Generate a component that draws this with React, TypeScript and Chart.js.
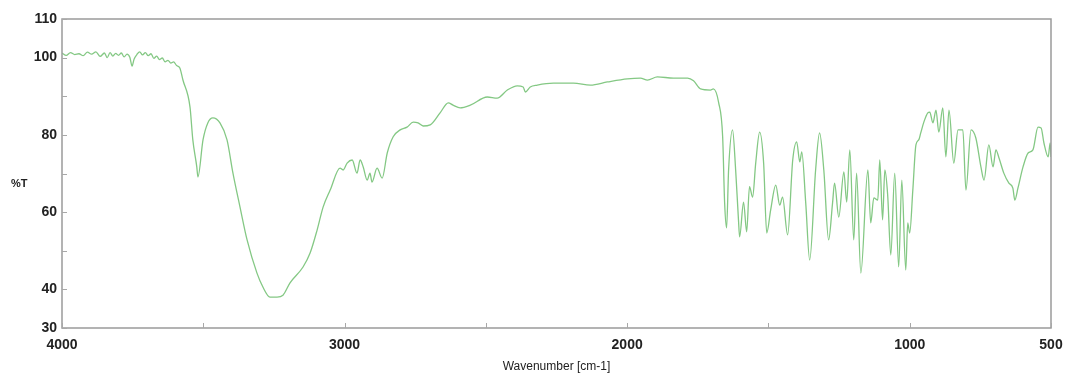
import React, { useEffect, useRef } from "react";
import { Chart, registerables } from "chart.js";

Chart.register(...registerables);

// Wavenumber (cm-1) and transmittance (%T)
const wavenumbers: number[] = [
  4000, 3985, 3970, 3955, 3940, 3925, 3910, 3895, 3880, 3865, 3850, 3840, 3830, 3820, 3810, 3800,
  3790, 3780, 3770, 3760, 3752, 3745, 3735, 3725, 3715, 3705, 3695, 3685, 3675, 3665, 3655, 3645,
  3635, 3625, 3615, 3605, 3595, 3583, 3572, 3547, 3537, 3523, 3519, 3501, 3484, 3466, 3441, 3416,
  3395, 3370, 3345, 3310, 3289, 3264, 3239, 3218, 3193, 3147, 3122, 3097, 3076, 3051, 3016, 3005,
  2991, 2973, 2956, 2945, 2934, 2920, 2910, 2903, 2885, 2867, 2849, 2828, 2803, 2779, 2757, 2740,
  2722, 2697, 2662, 2633, 2616, 2591, 2555, 2495, 2460, 2424, 2389, 2368, 2360, 2343, 2318, 2261,
  2190, 2130, 2070, 1999, 1953, 1928, 1893, 1836, 1786, 1765, 1740, 1705, 1695, 1676, 1662, 1655,
  1648, 1641, 1627, 1616, 1606, 1602, 1588, 1577, 1567, 1556, 1545, 1531, 1517, 1506, 1492, 1474,
  1460, 1450, 1432, 1414, 1400, 1389, 1382, 1368, 1354, 1333, 1319, 1304, 1287, 1273, 1266, 1251,
  1233, 1223, 1212, 1198, 1188, 1173, 1148, 1138, 1127, 1113, 1106, 1096, 1088, 1078, 1067, 1053,
  1039, 1028, 1014, 1007, 1000, 989, 978, 968, 961, 950, 936, 929, 918, 907, 897, 883,
  872, 861, 844, 829, 812, 801, 783, 766, 748, 737, 720, 705, 695, 684, 667, 649,
  635, 628, 617, 599, 581, 564, 546, 535, 525, 510, 503, 500,
];

const transmittance: number[] = [
  101.2, 100.6, 101.3, 100.8, 101.0, 100.5, 101.4, 100.9, 101.5, 100.3, 101.2, 100.0, 101.3, 100.4, 101.1, 100.6,
  101.2, 100.2, 100.9, 100.1, 97.8, 99.6, 100.8, 101.5, 100.7, 101.3, 100.5, 101.0, 99.8, 100.4, 99.5, 99.9,
  98.9, 99.3, 98.6, 98.9, 98.0, 97.3, 94.2, 87.2, 78.7, 71.7, 69.1, 78.7, 83.1, 84.4, 83.1, 78.7,
  70.1, 61.3, 52.8, 44.2, 40.6, 38.0, 38.0, 38.5, 41.7, 45.8, 49.4, 55.4, 61.3, 65.7, 71.4, 70.9,
  72.7, 73.5, 70.1, 73.5, 71.7, 68.3, 70.1, 67.8, 71.4, 68.8, 75.3, 79.5, 81.3, 82.0, 83.3, 83.1,
  82.3, 82.6, 85.7, 88.3, 87.7, 87.0, 87.7, 89.8, 89.5, 91.6, 92.7, 92.4, 91.1, 92.4, 92.9, 93.4,
  93.4, 92.9, 93.7, 94.5, 94.7, 94.2, 95.0, 94.7, 94.7, 94.0, 91.9, 91.6, 91.9, 88.3, 79.5, 62.4,
  55.9, 70.9, 81.3, 70.9, 58.0, 53.6, 62.6, 54.9, 66.6, 63.9, 72.7, 80.7, 72.7, 54.6, 60.6, 67.0,
  61.8, 63.9, 54.1, 73.5, 78.2, 73.0, 75.6, 62.4, 47.6, 70.9, 80.5, 70.9, 52.8, 62.4, 67.5, 58.7,
  70.4, 62.6, 76.1, 52.8, 70.1, 44.2, 70.9, 57.2, 63.7, 63.1, 73.5, 58.0, 70.9, 64.4, 48.9, 70.1,
  45.8, 68.3, 45.0, 57.2, 54.6, 65.7, 77.4, 78.7, 80.5, 83.3, 85.7, 85.9, 83.1, 86.4, 80.7, 87.0,
  74.3, 86.4, 72.7, 81.3, 81.3, 65.7, 81.3, 79.2, 71.7, 68.3, 77.4, 71.7, 76.1, 74.0, 70.1, 67.5,
  66.2, 63.1, 66.2, 71.7, 75.3, 76.1, 82.0, 81.8, 77.9, 74.3, 77.9, 74.3,
];

const xTickLabels: number[] = [4000, 3000, 2000, 1000, 500];
const xMinorTicks: number[] = [3500, 2500, 1500];
const yTickLabels: number[] = [30, 40, 60, 80, 100, 110];
const yMinorTicks: number[] = [50, 70, 90];

const xTitle = "Wavenumber [cm-1]";
const yTitle = "%T";

const framePlugin = {
  id: "framePlugin",
  afterDraw(chart: any) {
    const { ctx, chartArea, scales } = chart;
    const { left, right, top, bottom } = chartArea;
    ctx.save();
    ctx.strokeStyle = "#9a9a9a";
    ctx.lineWidth = 1.5;
    ctx.strokeRect(left, top, right - left, bottom - top);
    ctx.strokeStyle = "#a8a8a8";
    ctx.lineWidth = 1;
    const tl = 5;
    [...xTickLabels, ...xMinorTicks].forEach((v) => {
      const px = Math.round(scales.x.getPixelForValue(v)) + 0.5;
      ctx.beginPath();
      ctx.moveTo(px, bottom);
      ctx.lineTo(px, bottom - tl);
      ctx.stroke();
    });
    [...yTickLabels, ...yMinorTicks].forEach((v) => {
      const py = Math.round(scales.y.getPixelForValue(v)) + 0.5;
      ctx.beginPath();
      ctx.moveTo(left, py);
      ctx.lineTo(left + tl, py);
      ctx.stroke();
    });
    ctx.fillStyle = "#222";
    ctx.font = "bold 11px 'Liberation Sans', Arial, sans-serif";
    ctx.textAlign = "left";
    ctx.textBaseline = "middle";
    ctx.fillText(yTitle, 11, 184);
    ctx.restore();
  },
};

export default function App() {
  const ref = useRef<HTMLCanvasElement | null>(null);
  useEffect(() => {
    if (!ref.current) return;
    const points = wavenumbers.map((w, i) => ({ x: w, y: transmittance[i] }));
    const chart = new Chart(ref.current, {
      type: "line",
      data: {
        datasets: [
          {
            data: points,
            borderColor: "#84c884",
            borderWidth: 1.3,
            pointRadius: 0,
            fill: false,
            tension: 0.35,
            cubicInterpolationMode: "monotone",
          },
        ],
      },
      options: {
        animation: false,
        responsive: false,
        maintainAspectRatio: false,
        layout: { padding: { top: 19, right: 15, left: 0, bottom: 0 } },
        plugins: { legend: { display: false }, tooltip: { enabled: false } },
        scales: {
          x: {
            type: "linear",
            reverse: true,
            min: 500,
            max: 4000,
            grid: { display: false, drawTicks: false },
            border: { display: false },
            afterBuildTicks: (s: any) => {
              s.ticks = xTickLabels.map((v) => ({ value: v }));
            },
            afterFit: (s: any) => {
              s.height = 46;
              s.paddingLeft = 0;
              s.paddingRight = 0;
            },
            ticks: {
              autoSkip: false,
              maxRotation: 0,
              padding: 9,
              color: "#222",
              font: { family: "'Liberation Sans', Arial, sans-serif", size: 14, weight: "bold" },
              callback: (v: any) => String(v),
            },
            title: {
              display: true,
              text: xTitle,
              color: "#222",
              padding: { top: 1, bottom: 0 },
              font: { family: "'Liberation Sans', Arial, sans-serif", size: 12 },
            },
          },
          y: {
            type: "linear",
            min: 30,
            max: 110,
            grid: { display: false, drawTicks: false },
            border: { display: false },
            afterBuildTicks: (s: any) => {
              s.ticks = yTickLabels.map((v) => ({ value: v }));
            },
            afterFit: (s: any) => {
              s.width = 62;
              s.paddingTop = 0;
              s.paddingBottom = 0;
            },
            ticks: {
              autoSkip: false,
              padding: 5,
              color: "#222",
              font: { family: "'Liberation Sans', Arial, sans-serif", size: 14, weight: "bold" },
              callback: (v: any) => String(v),
            },
          },
        },
      },
      plugins: [framePlugin],
    });
    return () => chart.destroy();
  }, []);
  return (
    <div style={{ position: "absolute", left: 0, top: 0, width: 1066, height: 374, background: "#fff" }}>
      <canvas ref={ref} width={1066} height={374} style={{ display: "block" }} />
    </div>
  );
}
